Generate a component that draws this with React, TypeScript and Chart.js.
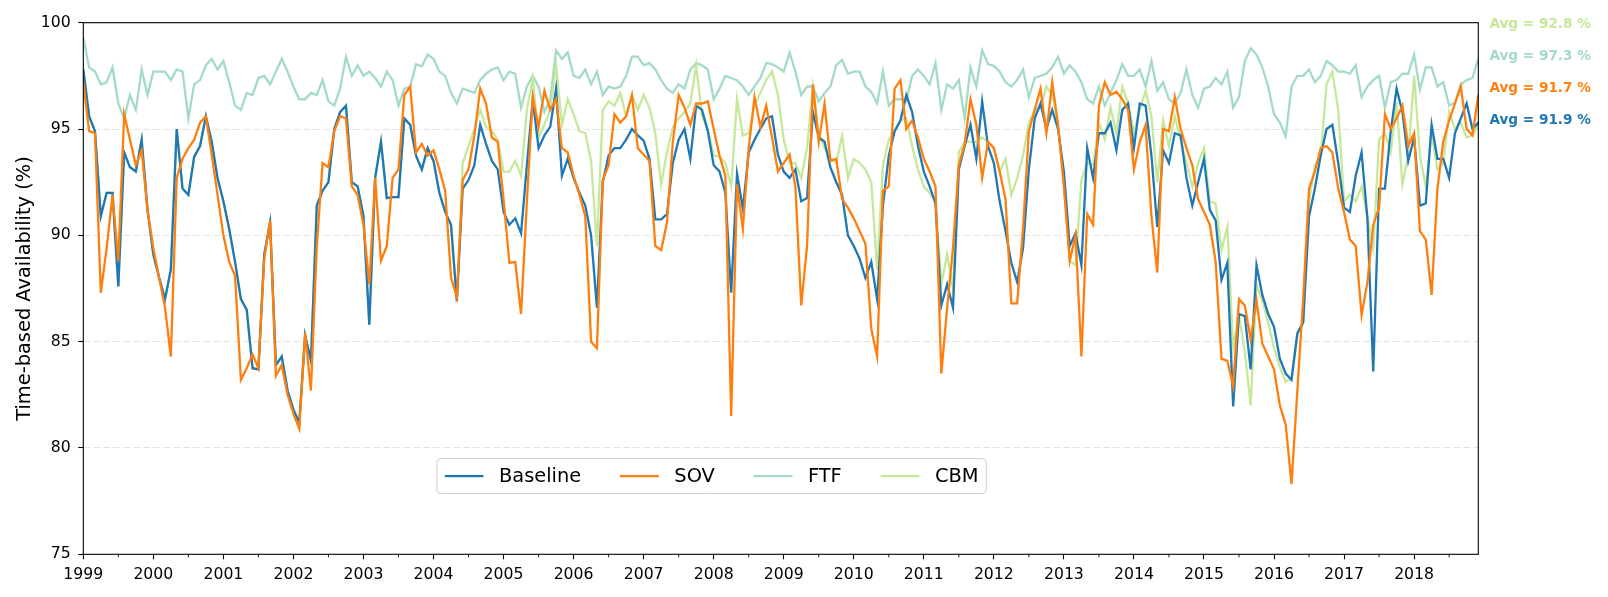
import React, { useEffect, useRef } from "react";
import { Chart, registerables } from "chart.js";

Chart.register(...registerables);

// monthly values, Jan 1999 .. Dec 2018
const startYear = 1999;
const yearTicks = [
  1999, 2000, 2001, 2002, 2003, 2004, 2005, 2006, 2007, 2008, 2009, 2010,
  2011, 2012, 2013, 2014, 2015, 2016, 2017, 2018,
];

const baseline = [
  97.8, 95.6, 94.9, 90.9, 92.0, 92.0, 87.6, 93.9, 93.2, 93.0, 94.5, 91.2,
  89.1, 88.0, 87.0, 88.4, 95.0, 92.2, 91.9, 93.7, 94.2, 95.6, 94.4, 92.7,
  91.6, 90.3, 88.75, 87.0, 86.5, 83.75, 83.7, 89.1, 90.6, 83.9, 84.3, 82.7,
  81.8, 81.2, 85.3, 84.1, 91.4, 92.1, 92.5, 95.0, 95.8, 96.1, 92.5, 92.3,
  90.9, 85.8, 92.7, 94.4, 91.75, 91.8, 91.8, 95.5, 95.2, 93.75, 93.1, 94.1,
  93.5, 92.0, 91.1, 90.5, 86.9, 92.2, 92.6, 93.3, 95.2, 94.3, 93.5, 93.1,
  91.1, 90.5, 90.8, 90.1, 93.3, 96.4, 94.1, 94.7, 95.1, 96.9, 92.8, 93.6,
  92.7, 92.0, 91.4, 90.0, 86.6, 92.5, 93.75, 94.1, 94.1, 94.5, 95.0, 94.7,
  94.45, 93.6, 90.75, 90.75, 91.0, 93.4, 94.5, 95.0, 93.6, 96.1, 95.9, 94.9,
  93.3, 93.0, 92.0, 87.3, 92.9, 91.25, 93.9, 94.5, 95.0, 95.5, 95.6, 93.8,
  93.0, 92.7, 93.1, 91.6, 91.75, 95.8, 94.6, 94.4, 93.2, 92.5, 91.9, 90.0,
  89.5, 88.9, 88.0, 88.75, 87.0, 91.4, 93.75, 94.9, 95.4, 96.6, 95.8, 94.2,
  93.0, 92.3, 91.5, 86.7, 87.7, 86.6, 93.1, 94.2, 95.2, 93.6, 96.3, 94.2,
  93.4, 91.6, 90.2, 88.7, 87.8, 89.4, 93.1, 95.5, 96.2, 95.0, 95.9, 95.0,
  93.0, 89.5, 90.1, 88.6, 94.1, 92.7, 94.8, 94.8, 95.3, 94.0, 95.9, 96.2,
  94.1, 96.2, 96.1, 93.75, 90.4, 94.0, 93.4, 94.8, 94.7, 92.7, 91.4, 92.5,
  93.6, 91.2, 90.7, 87.9, 88.7, 81.95, 86.3, 86.2, 83.7, 88.6, 87.2, 86.3,
  85.7, 84.2, 83.5, 83.2, 85.4, 85.9, 90.9, 92.2, 93.75, 95.0, 95.2, 93.4,
  91.3, 91.1, 92.8, 93.9, 90.8, 83.6, 92.2, 92.2, 94.9, 96.9, 95.8, 93.5,
  94.6, 91.4, 91.5, 95.2, 93.6, 93.6, 92.7, 94.8, 95.5, 96.2, 95.0, 95.3,
];

const sov = [
  97.2, 94.9, 94.8, 87.3, 89.4, 91.9, 88.8, 95.7, 94.5, 93.3, 94.0, 91.2,
  89.4, 88.0, 86.6, 84.3, 92.7, 93.6, 94.1, 94.5, 95.3, 95.6, 93.8, 91.9,
  90.0, 88.75, 88.1, 83.2, 83.75, 84.4, 83.75, 88.9, 90.7, 83.4, 83.9, 82.5,
  81.6, 80.9, 85.4, 82.7, 89.5, 93.4, 93.2, 94.9, 95.6, 95.5, 92.3, 91.9,
  90.5, 87.7, 92.7, 88.8, 89.5, 92.7, 93.1, 96.6, 97.0, 93.9, 94.3, 93.75,
  94.0, 93.1, 92.1, 88.0, 87.1, 92.6, 93.1, 94.7, 96.9, 96.2, 94.6, 94.4,
  91.7, 88.7, 88.75, 86.3, 91.6, 96.5, 95.1, 96.8, 95.9, 96.4, 94.1, 93.9,
  92.8, 91.9, 90.9, 85.0, 84.7, 92.6, 93.3, 95.7, 95.3, 95.6, 96.6, 94.1,
  93.8, 93.5, 89.5, 89.3, 90.6, 94.4, 96.6, 96.0, 95.2, 96.2, 96.2, 96.3,
  95.0, 93.75, 92.8, 81.5, 92.4, 90.3, 94.1, 96.5, 95.1, 96.1, 94.6, 93.0,
  93.4, 93.8, 92.3, 86.7, 89.5, 97.1, 94.4, 96.2, 93.5, 93.6, 91.7, 91.3,
  90.8, 90.2, 89.6, 85.6, 84.3, 92.1, 92.3, 96.9, 97.3, 95.0, 95.4, 94.6,
  93.6, 93.0, 92.3, 83.5, 86.6, 89.4, 93.3, 94.3, 96.4, 95.2, 92.7, 94.4,
  94.1, 93.0, 91.7, 86.8, 86.8, 90.3, 94.9, 95.9, 96.9, 94.8, 97.2, 95.2,
  92.3, 88.8, 90.0, 84.3, 91.0, 90.5, 96.1, 97.2, 96.6, 96.75, 96.4, 95.9,
  93.1, 94.4, 95.2, 90.9, 88.25, 95.0, 94.9, 96.5, 95.0, 94.1, 93.3, 91.7,
  91.1, 90.5, 88.75, 84.2, 84.1, 82.9, 87.0, 86.7, 85.1, 86.95, 84.9, 84.3,
  83.7, 82.0, 81.1, 78.3, 82.7, 87.0, 92.2, 93.0, 94.1, 94.2, 93.9, 92.2,
  91.1, 89.8, 89.5, 86.25, 87.8, 90.5, 91.3, 95.7, 95.0, 95.5, 96.1, 94.2,
  94.8, 90.2, 89.8, 87.2, 92.2, 94.4, 95.4, 96.2, 97.0, 95.0, 94.7, 96.6,
];

const ftf = [
  99.3, 97.9, 97.7, 97.1, 97.2, 97.9, 96.2, 95.5, 96.6, 95.9, 97.8, 96.6,
  97.7, 97.7, 97.7, 97.3, 97.8, 97.7, 95.5, 97.1, 97.3, 98.0, 98.3, 97.8,
  98.2, 97.2, 96.1, 95.9, 96.7, 96.6, 97.4, 97.5, 97.1, 97.7, 98.3, 97.7,
  97.0, 96.4, 96.4, 96.7, 96.6, 97.3, 96.3, 96.1, 96.9, 98.4, 97.5, 98.0,
  97.5, 97.7, 97.4, 97.0, 97.7, 97.3, 96.1, 96.9, 97.0, 98.05, 97.95, 98.5,
  98.3, 97.7, 97.5, 96.7, 96.2, 96.9, 96.8, 96.7, 97.3, 97.6, 97.8, 97.9,
  97.3, 97.7, 97.6, 96.0, 97.0, 97.5, 97.0, 95.8, 96.4, 98.7, 98.3, 98.6,
  97.5, 97.4, 97.8, 97.1, 97.7, 96.6, 97.0, 96.9, 97.0, 97.5, 98.4, 98.4,
  98.0, 98.1, 97.8, 97.3, 96.9, 96.7, 97.1, 96.9, 97.8, 98.1, 98.0, 97.8,
  96.4, 96.9, 97.5, 97.4, 97.3, 97.0, 96.6, 97.0, 97.4, 98.1, 98.05, 97.9,
  97.7, 98.6, 97.7, 96.6, 97.0, 97.0, 96.3, 96.7, 97.0, 98.0, 98.25, 97.6,
  97.7, 97.7, 97.0, 96.75, 96.2, 97.7, 96.1, 96.4, 96.4, 96.3, 97.5, 97.8,
  97.5, 97.1, 98.1, 95.9, 97.1, 96.9, 97.3, 95.5, 97.9, 97.0, 98.7, 98.05,
  97.97, 97.7, 97.2, 97.0, 97.3, 97.8, 96.5, 97.4, 97.5, 97.6, 97.9, 98.4,
  97.6, 98.0, 97.7, 97.2, 96.4, 96.2, 97.0, 96.1, 96.7, 97.3, 98.05, 97.5,
  97.5, 97.8, 97.0, 98.2, 96.8, 97.2, 96.4, 96.2, 96.7, 97.8, 96.6, 96.0,
  96.9, 97.0, 97.4, 97.1, 97.7, 96.0, 96.5, 98.2, 98.8, 98.5, 97.9, 97.0,
  95.7, 95.3, 94.65, 97.0, 97.5, 97.5, 97.8, 97.2, 97.5, 98.2, 98.0, 97.7,
  97.7, 97.6, 98.0, 96.5, 97.0, 97.3, 97.5, 96.0, 97.2, 97.3, 97.6, 97.6,
  98.5, 96.85, 97.9, 97.9, 97.0, 97.2, 96.1, 96.25, 97.1, 97.3, 97.4, 98.3,
];

const cbm = [
  97.8, 95.6, 94.9, 90.9, 92.0, 92.0, 87.6, 93.9, 93.2, 93.0, 94.5, 91.2,
  89.1, 88.0, 87.0, 88.4, 95.0, 92.2, 91.9, 93.7, 94.2, 95.6, 94.4, 92.7,
  91.6, 90.3, 88.75, 87.0, 86.5, 83.75, 83.7, 89.1, 90.6, 83.9, 84.3, 82.7,
  81.8, 81.2, 85.3, 84.1, 91.4, 92.1, 92.5, 95.0, 95.8, 96.1, 92.5, 92.3,
  90.9, 85.8, 92.7, 94.4, 91.75, 91.8, 91.8, 95.5, 95.2, 93.75, 93.1, 94.1,
  93.5, 92.0, 91.1, 90.5, 86.9, 93.4, 94.2, 95.0, 95.9, 95.1, 94.9, 94.5,
  93.0, 93.0, 93.5, 92.8, 95.9, 97.4, 94.6, 95.2, 95.9, 98.0, 95.2, 96.4,
  95.7, 94.9, 94.8, 93.5, 89.5, 95.9, 96.3, 96.1, 96.7, 95.6, 96.6, 95.9,
  96.6, 96.0, 94.8, 92.4, 93.9, 95.1, 95.5, 95.8, 96.2, 98.0, 95.6, 95.0,
  93.75, 93.7, 93.4, 92.3, 96.4, 94.7, 94.8, 96.1, 96.7, 97.3, 97.7, 96.6,
  94.5, 93.4, 93.4, 92.7, 94.1, 97.0, 94.8, 94.1, 93.6, 93.4, 94.7, 92.7,
  93.6, 93.4, 93.1, 92.5, 88.4, 93.3, 94.5, 94.9, 95.4, 95.5, 94.2, 93.1,
  92.3, 92.0, 91.6, 87.7, 89.1, 87.5, 93.9, 94.4, 94.4, 94.4, 94.6, 94.4,
  94.1, 93.0, 93.6, 91.9, 92.7, 93.75, 95.3, 95.9, 96.0, 97.0, 96.6, 95.3,
  92.5, 88.8, 88.6, 92.6, 93.4, 93.3, 95.3, 94.5, 96.0, 94.8, 97.0, 96.2,
  94.8, 95.9, 96.8, 95.6, 92.5, 95.4, 94.2, 95.6, 94.5, 93.4, 92.3, 93.4,
  94.1, 91.6, 91.5, 89.3, 90.4, 84.7, 86.25, 84.5, 82.0, 87.7, 86.9, 85.9,
  84.7, 83.8, 83.1, 83.3, 85.3, 85.9, 91.6, 93.3, 93.75, 97.1, 97.7, 95.9,
  91.6, 91.9, 91.6, 92.3, 90.9, 89.4, 94.5, 94.8, 93.9, 96.25, 92.4, 93.75,
  97.5, 93.75, 92.3, 94.8, 93.1, 93.4, 95.8, 95.0, 95.3, 94.6, 94.7, 95.2,
];

const seriesNames = ["Baseline", "SOV", "FTF", "CBM"];
const seriesColors = ["#1f77b4", "#ff7f0e", "#a3dbc6", "#c6e89b"];
// lower order is drawn on top
const seriesOrder = [1, 0, 3, 2];

// average labels at the right, top to bottom
const avgSeries = ["CBM", "FTF", "SOV", "Baseline"];
const avgValues = [92.8, 97.3, 91.7, 91.9];

const FONT = "'DejaVu Sans', sans-serif";

const toPoints = (values: number[]) =>
  values.map((v, i) => ({ x: startYear + i / 12, y: v }));

const framePlugin = {
  id: "frame",
  afterDatasetsDraw(chart: any) {
    const { ctx, chartArea: a, scales } = chart;
    ctx.save();
    ctx.strokeStyle = "#000";
    ctx.lineWidth = 1.1;
    ctx.strokeRect(a.left, a.top, a.right - a.left, a.bottom - a.top);
    // minor ticks at mid-year
    const xs = scales.x;
    ctx.lineWidth = 0.9;
    for (let y = startYear; y + 0.5 < xs.max; y++) {
      const px = xs.getPixelForValue(y + 0.5);
      ctx.beginPath();
      ctx.moveTo(px, a.bottom);
      ctx.lineTo(px, a.bottom + 3);
      ctx.stroke();
    }
    ctx.restore();
  },
};

const legendPlugin = {
  id: "boxLegend",
  afterDraw(chart: any) {
    const { ctx, chartArea: a } = chart;
    const fs = 19.4;
    const pad = 0.4 * fs;
    const handle = 2 * fs;
    const textPad = 0.8 * fs;
    const colGap = 2 * fs;
    ctx.save();
    ctx.font = `${fs}px ${FONT}`;
    const widths = seriesNames.map((n) => ctx.measureText(n).width);
    let w = 2 * pad;
    widths.forEach((tw, i) => {
      w += handle + textPad + tw + (i > 0 ? colGap : 0);
    });
    const h = 2 * pad + fs * 1.0;
    const x0 = a.left + 0.2535 * (a.right - a.left);
    const y0 = a.top + 0.82 * (a.bottom - a.top);
    // frame
    const r = 4;
    ctx.beginPath();
    ctx.moveTo(x0 + r, y0);
    ctx.lineTo(x0 + w - r, y0);
    ctx.quadraticCurveTo(x0 + w, y0, x0 + w, y0 + r);
    ctx.lineTo(x0 + w, y0 + h - r);
    ctx.quadraticCurveTo(x0 + w, y0 + h, x0 + w - r, y0 + h);
    ctx.lineTo(x0 + r, y0 + h);
    ctx.quadraticCurveTo(x0, y0 + h, x0, y0 + h - r);
    ctx.lineTo(x0, y0 + r);
    ctx.quadraticCurveTo(x0, y0, x0 + r, y0);
    ctx.closePath();
    ctx.fillStyle = "rgba(255,255,255,0.8)";
    ctx.fill();
    ctx.strokeStyle = "#cccccc";
    ctx.lineWidth = 1;
    ctx.stroke();
    const cy = y0 + h / 2;
    let x = x0 + pad;
    ctx.textBaseline = "middle";
    ctx.textAlign = "left";
    seriesNames.forEach((name, i) => {
      ctx.strokeStyle = seriesColors[i];
      ctx.lineWidth = 2.3;
      ctx.beginPath();
      ctx.moveTo(x, cy);
      ctx.lineTo(x + handle, cy);
      ctx.stroke();
      x += handle + textPad;
      ctx.fillStyle = "#000";
      ctx.fillText(name, x, cy + 1);
      x += widths[i] + colGap;
    });
    ctx.restore();
  },
};

const avgPlugin = {
  id: "avgLabels",
  afterDraw(chart: any) {
    const { ctx, chartArea: a } = chart;
    const h = a.bottom - a.top;
    const x = a.right + 0.008 * (a.right - a.left);
    ctx.save();
    ctx.font = `bold 13.6px ${FONT}`;
    ctx.textAlign = "left";
    ctx.textBaseline = "middle";
    avgSeries.forEach((name, k) => {
      ctx.fillStyle = seriesColors[seriesNames.indexOf(name)];
      ctx.fillText(`Avg = ${avgValues[k].toFixed(1)} %`, x, a.top + 1.6 + k * 0.06 * h);
    });
    ctx.restore();
  },
};

const App: React.FC = () => {
  const chartRef = useRef<HTMLCanvasElement | null>(null);
  const chartInstance = useRef<Chart | null>(null);

  useEffect(() => {
    if (!chartRef.current) return;
    if (chartInstance.current) chartInstance.current.destroy();
    const ctx = chartRef.current.getContext("2d");
    if (!ctx) return;

    const allSeries = [baseline, sov, ftf, cbm];

    chartInstance.current = new Chart(ctx, {
      type: "line",
      data: {
        datasets: allSeries.map((values, i) => ({
          label: seriesNames[i],
          data: toPoints(values),
          borderColor: seriesColors[i],
          backgroundColor: seriesColors[i],
          borderWidth: 2.3,
          pointRadius: 0,
          tension: 0,
          order: seriesOrder[i],
        })),
      },
      options: {
        animation: false,
        responsive: false,
        layout: { padding: { top: 22.7, right: 129.7, bottom: 0, left: 0 } },
        plugins: {
          legend: { display: false },
          tooltip: { enabled: false },
        },
        scales: {
          x: {
            type: "linear",
            min: startYear,
            max: startYear + (baseline.length - 1) / 12,
            afterBuildTicks: (scale: any) => {
              scale.ticks = yearTicks.map((v) => ({ value: v }));
            },
            afterFit: (scale: any) => {
              scale.height = 42.7;
            },
            grid: {
              drawOnChartArea: false,
              tickLength: 5,
              tickColor: "#000",
              tickWidth: 1.1,
            },
            border: { display: false },
            ticks: {
              autoSkip: false,
              maxRotation: 0,
              padding: 6,
              color: "#000",
              font: { family: FONT, size: 15.7 },
              callback: (v: any) => String(v),
            },
          },
          y: {
            min: 75,
            max: 100,
            afterFit: (scale: any) => {
              scale.width = 83.3;
            },
            grid: {
              color: (c: any) =>
                c.tick && (c.tick.value === 75 || c.tick.value === 100)
                  ? "rgba(0,0,0,0)"
                  : "rgba(0,0,0,0.11)",
              lineWidth: 1,
              tickLength: 5,
              tickColor: "#000",
              tickWidth: 1.1,
            },
            border: { display: false, dash: [7, 3] },
            ticks: {
              stepSize: 5,
              padding: 7.5,
              color: "#000",
              font: { family: FONT, size: 15.7 },
            },
            title: {
              display: true,
              text: "Time-based Availability (%)",
              color: "#000",
              font: { family: FONT, size: 19.4, lineHeight: 1.2 },
              padding: { top: 13.5, bottom: 0 },
            },
          },
        },
      },
      plugins: [framePlugin, legendPlugin, avgPlugin],
    } as any);

    return () => {
      if (chartInstance.current) {
        chartInstance.current.destroy();
        chartInstance.current = null;
      }
    };
  }, []);

  return (
    <div style={{ position: "absolute", left: 0, top: 0, width: 1608, height: 597, background: "#fff" }}>
      <canvas ref={chartRef} width={1608} height={597} style={{ display: "block" }} />
    </div>
  );
};

export default App;
